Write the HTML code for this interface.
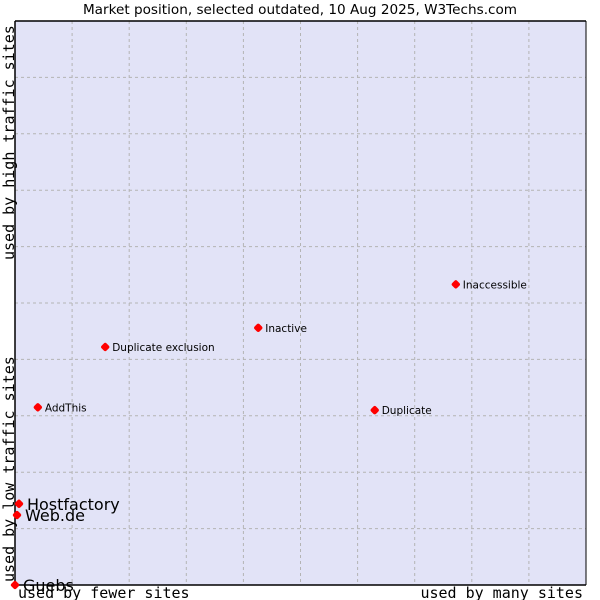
<!DOCTYPE html>
<html><head><meta charset="utf-8"><style>
body{margin:0;background:#fff;}
svg{display:block;font-family:"DejaVu Sans","Liberation Sans",sans-serif;}
</style></head><body>
<svg id="chart" width="600" height="600">
<text x="300" y="14" font-size="13.6" text-anchor="middle" fill="#000">Market position, selected outdated, 10 Aug 2025, W3Techs.com</text>
<rect x="15" y="21" width="571" height="564" fill="#e2e3f7"/>
<g id="grid"></g>
<line x1="15" y1="21" x2="586" y2="21" stroke="#000" stroke-width="1.5"/>
<line x1="15" y1="21" x2="15" y2="585" stroke="#000" stroke-width="1.5"/>
<line x1="15" y1="585" x2="586" y2="585" stroke="#000" stroke-width="1.5"/>
<line x1="586" y1="21" x2="586" y2="585" stroke="#000" stroke-width="1"/>
<g id="points"></g>
<text x="18" y="598" font-family="'DejaVu Sans Mono','Liberation Mono',monospace" font-size="15">used by fewer sites</text>
<text x="583" y="598" text-anchor="end" font-family="'DejaVu Sans Mono','Liberation Mono',monospace" font-size="15">used by many sites</text>
<text transform="translate(14,582) rotate(-90)" font-family="'DejaVu Sans Mono','Liberation Mono',monospace" font-size="15">used by low traffic sites</text>
<text transform="translate(14,260) rotate(-90)" font-family="'DejaVu Sans Mono','Liberation Mono',monospace" font-size="15">used by high traffic sites</text>
</svg>
<script>
const names=["Hostfactory","Web.de","Guebs","AddThis","Duplicate exclusion","Inactive","Duplicate","Inaccessible"];
const xValues=[0.7,0.35,0,4.0,15.8,42.6,63.0,77.2];
const yValues=[14.4,12.4,0,31.5,42.2,45.6,31.0,53.3];
const bigLabel=[true,true,true,false,false,false,false,false];
const L=15,T=21,W=571,H=564;
const sx=v=>L+v/100*W, sy=v=>T+H-v/100*H;
const NS="http://www.w3.org/2000/svg";
const grid=document.getElementById('grid');
for(let i=1;i<10;i++){
  const vx=document.createElementNS(NS,'line');
  
  
  const x=L+i*W/10;
  vx.setAttribute('x1',x);vx.setAttribute('x2',x);vx.setAttribute('y1',T);vx.setAttribute('y2',T+H);
  vx.setAttribute('stroke','#b4b4b4');vx.setAttribute('stroke-dasharray','3,3');
  grid.appendChild(vx);
  const hy=document.createElementNS(NS,'line');
  
  
  const y=T+i*H/10;
  hy.setAttribute('x1',L);hy.setAttribute('x2',L+W);hy.setAttribute('y1',y);hy.setAttribute('y2',y);
  hy.setAttribute('stroke','#b4b4b4');hy.setAttribute('stroke-dasharray','3,3');
  grid.appendChild(hy);
}
const pts=document.getElementById('points');
names.forEach((n,i)=>{
  const x=sx(xValues[i]),y=sy(yValues[i]);
  const c=document.createElementNS(NS,'rect');
  
  
  c.setAttribute('x',x-3.5);c.setAttribute('y',y-3.5);c.setAttribute('width',7);c.setAttribute('height',7);
  c.setAttribute('rx',2);c.setAttribute('fill','#f00');
  c.setAttribute('transform','rotate(45 '+x+' '+y+')');
  pts.appendChild(c);
  const t=document.createElementNS(NS,'text');
  
  
  t.setAttribute('x',x+(bigLabel[i]?8:7));
  t.setAttribute('y',y+(bigLabel[i]?6:4));
  t.setAttribute('font-size',bigLabel[i]?16:10.5);
  t.textContent=n;
  pts.appendChild(t);
});
</script>
</body></html>
